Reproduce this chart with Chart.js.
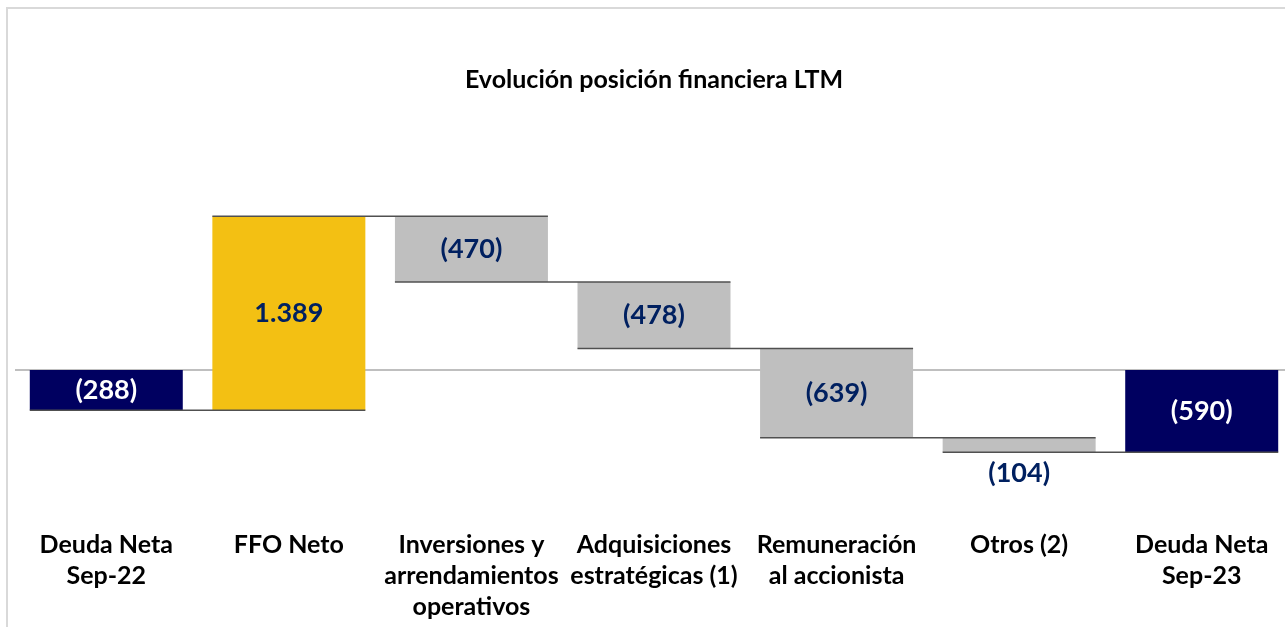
<!DOCTYPE html>
<html>
<head>
<meta charset="utf-8">
<script src="https://cdn.jsdelivr.net/npm/chart.js@4.4.0/dist/chart.umd.min.js"></script>
<style>
  html, body { margin: 0; padding: 0; background: #fff; overflow: hidden; }
  #wrap { position: relative; width: 1285px; height: 627px; overflow: hidden; }
  #frame { position: absolute; left: 6px; top: 7px; width: 1400px; height: 800px; border: 2px solid #d9d9d9; }
  #myChart { position: absolute; left: 0; top: 0; }
</style>
</head>
<body>
<div id="wrap">
  <div id="frame"></div>
  <canvas id="myChart" width="1300" height="627"></canvas>
</div>
<script>
// datos del gráfico
var categories = [
    ['Deuda Neta', 'Sep-22'],
    ['FFO Neto'],
    ['Inversiones y', 'arrendamientos', 'operativos'],
    ['Adquisiciones', 'estratégicas (1)'],
    ['Remuneración', 'al accionista'],
    ['Otros (2)'],
    ['Deuda Neta', 'Sep-23']
];
var values = [-288, 1389, -470, -478, -639, -104, -590];
var isTotal = [true, false, false, false, false, false, true];
var valueLabels = ['(288)', '1.389', '(470)', '(478)', '(639)', '(104)', '(590)'];
var barColors = ['#000060', '#F3C013', '#BFBFBF', '#BFBFBF', '#BFBFBF', '#BFBFBF', '#000060'];
var labelColors = ['#ffffff', '#002060', '#002060', '#002060', '#002060', '#002060', '#ffffff'];

// construir barras flotantes
var floating = [];
var ends = [];
var running = 0;
for (var i = 0; i < values.length; i++) {
    if (isTotal[i]) {
        floating.push([0, values[i]]);
        running = values[i];
    } else {
        floating.push([running, running + values[i]]);
        running = running + values[i];
    }
    ends.push(running);
}

var zeroLine = {
    id: 'zeroLine',
    beforeDatasetsDraw: function (chart) {
        var ctx = chart.ctx;
        var y = chart.scales.y.getPixelForValue(0);
        ctx.save();
        ctx.strokeStyle = '#BFBFBF';
        ctx.lineWidth = 2;
        ctx.beginPath();
        ctx.moveTo(chart.chartArea.left, y);
        ctx.lineTo(chart.width, y);
        ctx.stroke();
        ctx.restore();
    }
};

var connectors = {
    id: 'connectors',
    afterDatasetsDraw: function (chart) {
        var ctx = chart.ctx;
        var bars = chart.getDatasetMeta(0).data;
        ctx.save();
        ctx.strokeStyle = '#505050';
        ctx.lineWidth = 1.5;
        for (var i = 0; i < bars.length - 1; i++) {
            var y = chart.scales.y.getPixelForValue(ends[i]);
            var x1 = bars[i].x - bars[i].width / 2;
            var x2 = bars[i + 1].x + bars[i + 1].width / 2;
            ctx.beginPath();
            ctx.moveTo(x1, y);
            ctx.lineTo(x2, y);
            ctx.stroke();
        }
        ctx.restore();
    }
};

var barLabels = {
    id: 'barLabels',
    afterDraw: function (chart) {
        var ctx = chart.ctx;
        var bars = chart.getDatasetMeta(0).data;
        ctx.save();
        ctx.font = 'bold 27px Lato';
        ctx.textAlign = 'center';
        ctx.textBaseline = 'middle';
        bars.forEach(function (bar, i) {
            var top = Math.min(bar.y, bar.base);
            var bottom = Math.max(bar.y, bar.base);
            var y = (top + bottom) / 2;
            var color = labelColors[i];
            // barra muy baja: etiqueta debajo
            if (bottom - top < 30) {
                y = bottom + 21;
                color = '#002060';
            }
            ctx.fillStyle = color;
            ctx.fillText(valueLabels[i], bar.x, y);
        });
        ctx.restore();
    }
};

var ctx = document.getElementById('myChart');
var chart = new Chart(ctx, {
    type: 'bar',
    data: {
        labels: categories,
        datasets: [{
            data: floating,
            backgroundColor: barColors,
            borderWidth: 0,
            categoryPercentage: 1,
            barPercentage: 0.838
        }]
    },
    options: {
        responsive: false,
        animation: false,
        layout: {
            padding: { left: 15, right: 7, top: 0, bottom: 0 }
        },
        plugins: {
            legend: { display: false },
            tooltip: { enabled: false },
            title: {
                display: true,
                text: 'Evolución posición financiera LTM',
                color: '#000000',
                font: { family: 'Lato', size: 25, weight: 'bold', lineHeight: 1.2 },
                padding: { top: 65, bottom: 93.6 }
            }
        },
        scales: {
            x: {
                grid: { display: false, drawTicks: false },
                border: { display: false },
                ticks: {
                    color: '#000000',
                    font: { family: 'Lato', size: 25, weight: 'bold', lineHeight: '31px' },
                    padding: 62,
                    maxRotation: 0,
                    minRotation: 0,
                    autoSkip: false
                },
                afterFit: function (scale) {
                    scale.height = 159.4;
                    scale.paddingLeft = 0;
                    scale.paddingRight = 0;
                }
            },
            y: {
                display: false,
                min: -700,
                max: 1300
            }
        }
    },
    plugins: [zeroLine, connectors, barLabels]
});
</script>
</body>
</html>
